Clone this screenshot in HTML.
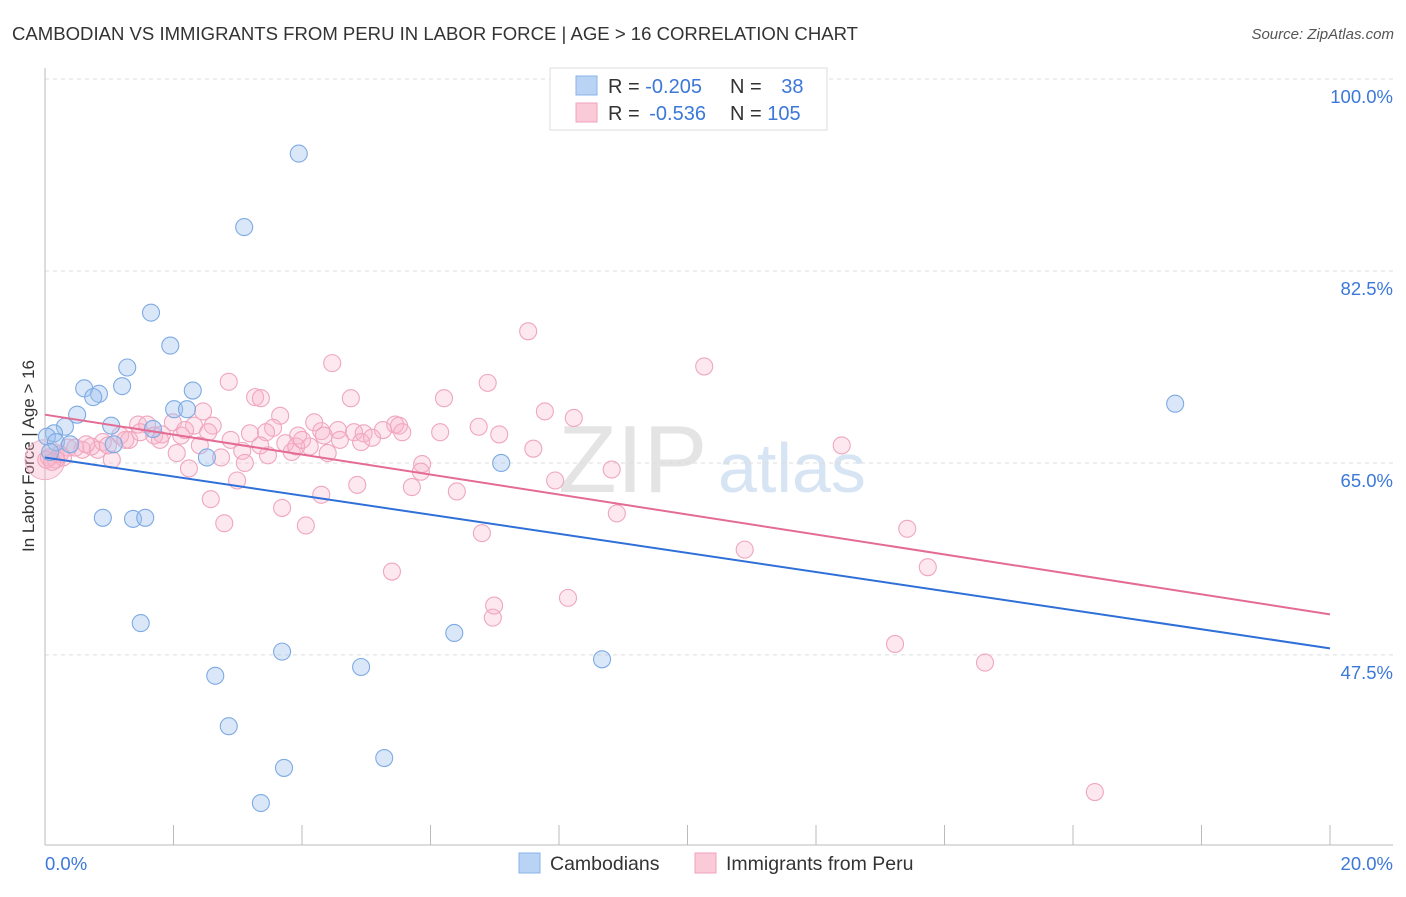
<!DOCTYPE html>
<html><head><meta charset="utf-8"><style>
body{margin:0;background:#fff;font-family:"Liberation Sans",sans-serif;}
svg text{font-family:"Liberation Sans",sans-serif;}
</style></head><body>
<svg id="chart" width="1406" height="892">
<text x="12" y="40" font-size="18" fill="#333" textLength="846" lengthAdjust="spacingAndGlyphs">CAMBODIAN VS IMMIGRANTS FROM PERU IN LABOR FORCE | AGE &gt; 16 CORRELATION CHART</text>
<text x="1394" y="39" font-size="15" fill="#555" font-style="italic" text-anchor="end">Source: ZipAtlas.com</text>
<text transform="translate(34,456) rotate(-90)" font-size="17" fill="#333" text-anchor="middle">In Labor Force | Age &gt; 16</text>
<g><text x="558" y="492" font-size="96" fill="#e4e4e4" font-family="Liberation Serif">ZIP</text><text x="718" y="492" font-size="70" fill="#d6e4f3">atlas</text></g>
<g id="grid"></g><g id="axes"></g><g id="pts"></g><g id="trend"></g>
<g>
<rect x="550" y="68" width="277" height="62" fill="#fff" stroke="#ddd"/>
<rect x="576" y="76" width="21" height="19" fill="#b9d3f5" stroke="#8ab3e8"/>
<rect x="576" y="103" width="21" height="19" fill="#fbcad8" stroke="#f0a3bc"/>
<text x="608" y="93" font-size="20" fill="#333">R = <tspan fill="#3b78d8">-0.205</tspan></text>
<text x="730" y="93" font-size="20" fill="#333">N = <tspan fill="#3b78d8" dx="14">38</tspan></text>
<text x="608" y="120" font-size="20" fill="#333">R = <tspan fill="#3b78d8" dx="4">-0.536</tspan></text>
<text x="730" y="120" font-size="20" fill="#333">N = <tspan fill="#3b78d8">105</tspan></text>
</g>
<g>
<rect x="519" y="853" width="21" height="20" fill="#b9d3f5" stroke="#8ab3e8"/>
<text x="550" y="870" font-size="19.5" fill="#333">Cambodians</text>
<rect x="695" y="853" width="21" height="20" fill="#fbcad8" stroke="#f0a3bc"/>
<text x="726" y="870" font-size="19.5" fill="#333">Immigrants from Peru</text>
</g>
</svg>
<script>
const xTicks=[0,20];
const xTickLabels=["0.0%","20.0%"];
const yTicks=[100,82.5,65,47.5];
const yTickLabels=["100.0%","82.5%","65.0%","47.5%"];
const blueX=[3.95,3.10,1.65,1.95,1.28,1.20,0.61,2.30,0.84,0.75,0.50,2.01,2.21,0.31,1.03,0.14,0.03,1.68,0.17,0.39,1.07,2.52,7.10,17.59,0.90,1.37,1.56,1.49,6.37,3.69,8.67,4.92,2.65,2.86,5.28,3.72,3.36,0.08];
const blueY=[93.2,86.5,78.7,75.7,73.7,72.0,71.8,71.6,71.3,71.0,69.4,69.9,69.9,68.3,68.4,67.7,67.4,68.1,66.9,66.7,66.7,65.5,65.0,70.4,60.0,59.9,60.0,50.4,49.5,47.8,47.1,46.4,45.6,41.0,38.1,37.2,34.0,66.0];
const pinkX=[7.52,4.47,10.26,2.86,6.89,3.27,3.36,4.76,6.21,7.78,8.23,2.46,3.66,4.19,1.99,1.45,1.59,2.32,2.61,5.45,5.51,3.55,4.30,4.56,4.81,4.96,5.26,6.15,6.75,7.07,1.70,1.82,2.12,2.54,2.89,3.19,3.44,3.94,4.12,4.34,4.92,1.17,1.25,1.31,0.90,0.82,0.72,0.58,0.36,0.23,0.28,0.17,0.06,7.60,12.40,2.05,2.74,3.07,3.47,3.84,3.74,4.40,1.04,3.11,5.87,5.85,2.24,2.99,8.82,7.94,5.71,4.86,4.30,6.41,2.58,3.69,2.79,4.06,8.90,6.80,13.42,10.89,13.74,5.40,8.14,6.99,6.97,13.23,14.63,16.34,0.02,0.11,0.47,0.64,0.98,1.48,1.79,2.18,2.41,3.35,3.91,5.09,5.56,4.59,4.00];
const pinkY=[77.0,74.1,73.8,72.4,72.3,71.0,70.9,70.9,70.9,69.7,69.1,69.7,69.3,68.7,68.7,68.5,68.5,68.4,68.4,68.5,68.4,68.2,67.9,68.0,67.8,67.7,68.0,67.8,68.3,67.6,67.5,67.6,67.5,67.8,67.1,67.7,67.8,67.5,66.5,67.5,66.9,67.5,67.1,67.1,66.9,66.2,66.5,66.2,66.4,65.8,65.5,65.3,65.5,66.3,66.6,65.9,65.5,66.1,65.7,66.0,66.8,65.9,65.3,65.0,64.9,64.2,64.5,63.4,64.4,63.4,62.8,63.0,62.1,62.4,61.7,60.9,59.5,59.3,60.4,58.6,59.0,57.1,55.5,55.1,52.7,52.0,50.9,48.5,46.8,35.0,65.3,65.1,66.4,66.7,66.6,67.8,67.1,68.0,66.6,66.6,66.5,67.3,67.8,67.1,67.1];
const blueTrend=[65.5,48.1];
const pinkTrend=[69.4,51.2];
const NS="http://www.w3.org/2000/svg";
const X=v=>45+v*64.25, Y=v=>79+(100-v)*10.97;
function mk(p,t,a){const e=document.createElementNS(NS,t);for(const k in a)e.setAttribute(k,a[k]);p.appendChild(e);return e;}
const grid=document.getElementById('grid'),axes=document.getElementById('axes'),pts=document.getElementById('pts'),trend=document.getElementById('trend');
yTicks.forEach((v,i)=>{
 const l=mk(grid,'line',{x1:45,x2:1393,y1:Y(v),y2:Y(v),stroke:'#ddd','stroke-dasharray':'4,4'});
 
 
 const t=mk(axes,'text',{x:1393,y:Y(v)+24,'font-size':18.5,fill:'#3b78d8','text-anchor':'end'});t.textContent=yTickLabels[i];
 
 
});
const ax=mk(axes,'line',{x1:45,x2:45,y1:68,y2:845,stroke:'#bbb'});


const bx=mk(axes,'line',{x1:45,x2:1393,y1:845,y2:845,stroke:'#bbb'});


for(let k=1;k<=10;k++){const tk=mk(axes,'line',{x1:X(k*2),x2:X(k*2),y1:825,y2:845,stroke:'#bbb'});
 
 }
xTicks.forEach((v,i)=>{const t=mk(axes,'text',{x:i?1393:X(v),y:870,'font-size':18.5,fill:'#3b78d8','text-anchor':i?'end':'start'});t.textContent=xTickLabels[i];
 
 });
const big=mk(pts,'circle',{cx:X(0),cy:Y(65.3),r:20,fill:'rgba(245,170,195,0.35)',stroke:'#f0b0c4'});


pinkX.forEach((v,i)=>{const c=mk(pts,'circle',{cx:X(v),cy:Y(pinkY[i]),r:8.5,fill:'rgba(248,180,203,0.3)',stroke:'#efa6be','stroke-width':1.1});
 
 });
blueX.forEach((v,i)=>{const c=mk(pts,'circle',{cx:X(v),cy:Y(blueY[i]),r:8.5,fill:'rgba(160,196,240,0.4)',stroke:'#7eaae3','stroke-width':1.1});
 
 });
const bt=mk(trend,'line',{x1:X(0),y1:Y(blueTrend[0]),x2:X(20),y2:Y(blueTrend[1]),stroke:'#2f6fd8','stroke-width':2});


const pt=mk(trend,'line',{x1:X(0),y1:Y(pinkTrend[0]),x2:X(20),y2:Y(pinkTrend[1]),stroke:'#e46b94','stroke-width':2});


</script>
</body></html>
